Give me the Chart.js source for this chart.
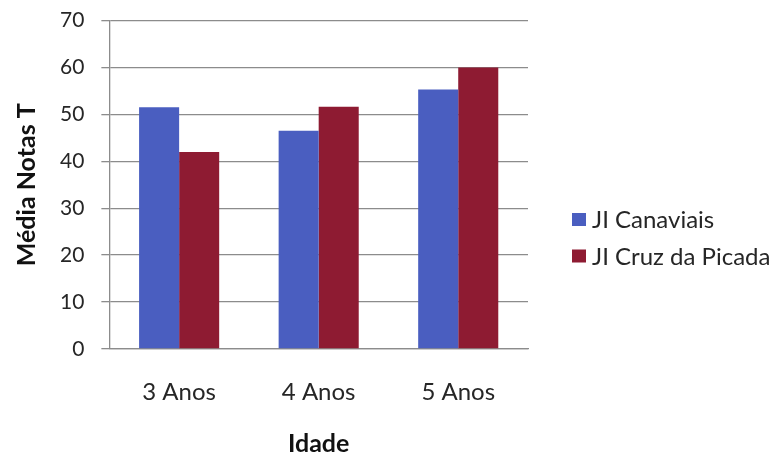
<!DOCTYPE html>
<html>
<head>
<meta charset="utf-8">
<script src="https://cdn.jsdelivr.net/npm/chart.js@4.4.1/dist/chart.umd.min.js"></script>
<style>
	html, body { margin: 0; padding: 0; background: #ffffff; }
	#wrap { width: 774px; height: 456px; }
</style>
</head>
<body>
<div id="wrap"><canvas id="notas-canvas"></canvas></div>
<script>
// Age groups and mean T scores per kindergarten
const idades = ["3 Anos", "4 Anos", "5 Anos"];
const canaviais = [51.5, 46.5, 55.3];
const cruzPicada = [42, 51.6, 60];
const yTicks = [0, 10, 20, 30, 40, 50, 60, 70];

const FONT = "Lato, 'Open Sans', sans-serif";
const GRID = "#8c8c8c";

// Legend drawn on the right, stacked vertically beside the plot
const sideLegend = {
	id: 'sideLegend',
	afterDraw(chart) {
		const ctx = chart.ctx;
		const area = chart.chartArea;
		const x = area.right + 44;
		let y = 219.5;
		ctx.save();
		ctx.font = "24px " + FONT;
		ctx.textBaseline = "middle";
		chart.data.datasets.forEach(ds => {
			ctx.fillStyle = ds.backgroundColor;
			ctx.fillRect(x, y - 6.5, 14, 13);
			ctx.fillStyle = "#262626";
			ctx.fillText(ds.label, x + 20, y + 1);
			y += 36.5;
		});
		ctx.restore();
	}
};

let ctx = document.getElementById("notas-canvas").getContext("2d");

let chart = new Chart(ctx, {
	type: "bar",
	data: {
		labels: idades,
		datasets: [
			{
				label: "JI Canaviais",
				backgroundColor: "#4a5ec0",
				data: canaviais,
			},
			{
				label: "JI Cruz da Picada",
				backgroundColor: "#8e1b32",
				data: cruzPicada,
			}
		]
	},
	options: {
		responsive: true,
		maintainAspectRatio: false,
		animation: false,
		layout: {
			padding: { left: 12, right: 246, top: 20.5, bottom: 0 }
		},
		datasets: {
			bar: {
				categoryPercentage: 0.574,
				barPercentage: 1.0
			}
		},
		scales: {
			x: {
				grid: {
					color: "rgba(0,0,0,0)",
					tickColor: "rgba(0,0,0,0)",
					drawOnChartArea: false,
					tickLength: 26.6
				},
				border: { display: true, color: GRID, width: 1.3 },
				ticks: {
					color: "#262626",
					font: { family: FONT, size: 24 },
					padding: 2
				},
				title: {
					display: true,
					text: "Idade",
					color: "#111111",
					font: { family: FONT, size: 25, weight: "bold", lineHeight: 1 },
					padding: { top: 22.6, bottom: 0 }
				}
			},
			y: {
				min: 0,
				max: 70,
				afterBuildTicks: axis => {
					axis.ticks = yTicks.map(v => ({ value: v }));
				},
				// keep the plot top where the layout padding puts it
				afterFit: axis => {
					axis.paddingTop = 0;
					axis.paddingBottom = 0;
				},
				grid: {
					color: GRID,
					lineWidth: 1.3,
					tickLength: 8
				},
				border: { display: true, color: GRID, width: 1.3 },
				ticks: {
					color: "#262626",
					font: { family: FONT, size: 21 },
					padding: 17
				},
				title: {
					display: true,
					text: "Média Notas T",
					color: "#111111",
					font: { family: FONT, size: 25, weight: "bold" },
					padding: { top: 0, bottom: 1 }
				}
			}
		},
		plugins: {
			legend: { display: false },
			tooltip: { enabled: false }
		}
	},
	plugins: [sideLegend]
});
</script>
</body>
</html>
